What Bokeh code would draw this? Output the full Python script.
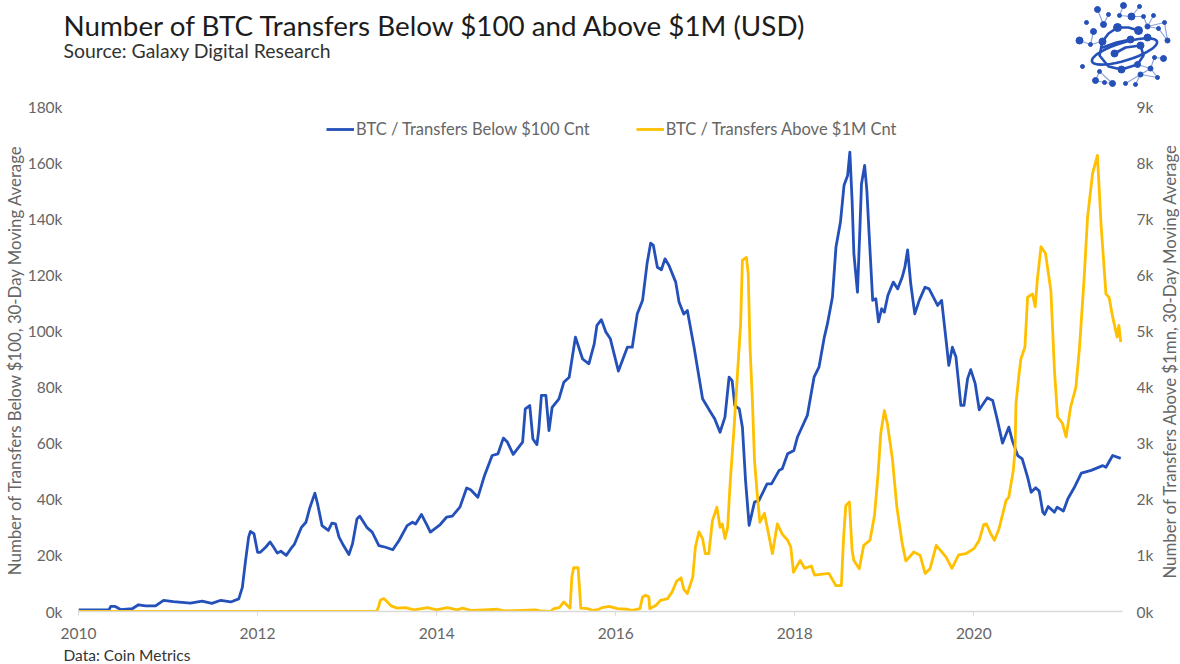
import math
from bokeh.plotting import figure
from bokeh.layouts import column
from bokeh.embed import file_html
from bokeh.resources import INLINE
from bokeh.models import Range1d, LinearAxis, FixedTicker, Label, Legend, LegendItem, PrintfTickFormatter

TITLE = "Number of BTC Transfers Below $100 and Above $1M (USD)"
SUBTITLE = "Source: Galaxy Digital Research"
FOOTER = "Data: Coin Metrics"
LEFT_LABEL = "Number of Transfers Below $100, 30-Day Moving Average"
RIGHT_LABEL = "Number of Transfers Above $1mn, 30-Day Moving Average"
BLUE_NAME = "BTC / Transfers Below $100 Cnt"
GOLD_NAME = "BTC / Transfers Above $1M Cnt"
X_TICKS = [2010, 2012, 2014, 2016, 2018, 2020]
LEFT_TICKS = [0, 20, 40, 60, 80, 100, 120, 140, 160, 180]
RIGHT_TICKS = [0, 1, 2, 3, 4, 5, 6, 7, 8, 9]

below_year = [2010,2010.34,2010.36,2010.41,2010.47,2010.6,2010.67,2010.75,2010.86,2010.95,2011.06,2011.25,2011.38,2011.49,2011.59,2011.7,
 2011.79,2011.83,2011.866,2011.9,2011.92,2011.96,2012.0,2012.03,2012.09,2012.14,2012.18,2012.22,2012.26,2012.32,2012.37,2012.41,2012.49,2012.54,2012.58,2012.64,2012.67,2012.72,2012.79,2012.83,2012.87,2012.91,2012.96,2013.02,2013.06,2013.11,2013.14,2013.22,2013.28,2013.355,2013.43,2013.51,2013.58,2013.67,2013.73,2013.765,2013.83,2013.895,2013.93,2014.04,2014.11,2014.175,2014.26,2014.335,2014.38,2014.46,2014.535,2014.62,2014.685,2014.745,2014.79,2014.855,2014.96,2014.99,2015.04,2015.075,2015.12,2015.14,2015.17,2015.22,2015.255,
 2015.29,2015.366,2015.42,2015.48,2015.55,2015.63,2015.7,2015.76,2015.79,2015.84,2015.89,2015.94,2016.03,2016.13,2016.185,2016.24,2016.3,2016.35,2016.39,2016.42,2016.465,2016.51,2016.55,2016.595,2016.67,2016.707,2016.76,2016.8,2016.875,2016.97,2017.06,2017.105,2017.165,2017.22,2017.266,2017.3,2017.33,2017.38,2017.415,2017.45,2017.49,2017.55,2017.6,2017.69,2017.74,2017.825,2017.86,2017.92,2017.99,2018.03,2018.14,2018.215,2018.27,2018.33,2018.365,2018.42,2018.46,2018.51,2018.55,2018.59,2018.615,2018.64,2018.66,2018.7,2018.725,2018.745,2018.78,2018.805,2018.83,2018.87,2018.905,2018.935,2018.97,2019.0,2019.04,2019.1,2019.15,2019.2,2019.23,2019.26,2019.295,2019.34,2019.39,2019.455,2019.5,2019.595,2019.64,2019.69,2019.72,2019.76,2019.8,2019.855,2019.89,2019.93,2019.965,2020.015,2020.06,2020.15,2020.21,2020.255,2020.32,2020.39,2020.43,2020.49,2020.54,2020.6,2020.64,2020.69,2020.73,2020.77,2020.79,2020.83,2020.9,2020.93,2021.0,2021.05,2021.12,2021.2,2021.31,2021.44,2021.475,2021.55,2021.64]
below_k = [0.6,0.6,1.8,1.8,0.7,1.0,2.4,2.0,2.0,4.0,3.5,3.0,3.7,2.9,4.0,3.4,
 4.5,8.6,18.2,26.5,28.5,27.7,21.1,21.1,22.9,24.8,22.9,20.8,21.5,20.0,22.3,23.9,30.0,31.8,36.6,42.2,38.4,30.6,28.9,31.5,31.2,26.5,23.5,20.3,24.1,33.0,34.0,30.0,28.3,23.5,22.9,22.0,25.3,30.6,31.8,31.2,34.6,30.6,28.3,31.0,33.6,34.0,37.2,44.0,43.4,40.7,48.5,55.6,56.2,61.8,60.4,56.0,60.4,72.2,73.4,61.5,59.5,64.5,77.0,77.0,64.5,
 72.8,75.8,81.7,83.5,97.8,90.0,88.3,95.4,102.0,104.0,99.6,97.2,85.7,94.2,94.2,106.0,110.9,124.0,131.3,130.5,122.7,121.8,125.7,123.3,117.4,110.3,106.0,107.3,94.2,75.8,71.0,68.7,63.9,69.3,83.5,82.3,73.4,72.2,65.7,46.7,30.7,39.0,39.6,45.5,45.5,50.3,50.9,56.2,57.4,62.2,69.9,83.5,87.1,97.8,102.6,112.0,129.9,138.8,151.9,155.4,163.7,146.5,127.5,113.8,134.6,152.5,159.0,150.0,134.6,110.9,111.5,103.2,107.9,106.7,112.7,117.4,115.0,119.2,122.8,128.9,116.8,106.1,110.9,115.6,115.0,109.1,110.9,96.6,87.7,94.2,90.7,73.5,73.5,83.0,86.2,81.2,71.9,76.2,75.2,69.3,60.0,65.7,60.9,55.6,54.4,47.9,42.5,44.1,42.9,35.4,34.6,37.4,35.4,37.2,35.8,40.2,44.1,49.3,50.3,52.0,51.4,55.6,54.6]

above_year = [2010,2013.33,2013.355,2013.37,2013.41,2013.45,2013.49,2013.56,2013.65,2013.75,2013.9,2014.0,2014.12,2014.23,2014.29,2014.38,2014.53,2014.68,2014.75,2015.1,2015.16,2015.27,
 2015.31,2015.37,2015.42,2015.49,2015.51,2015.53,2015.58,2015.61,2015.69,2015.74,2015.81,2015.85,2015.925,2016.02,2016.13,2016.185,2016.27,2016.3,2016.335,2016.37,2016.38,2016.45,2016.5,2016.58,2016.63,2016.68,2016.73,2016.76,2016.8,2016.86,2016.89,2016.93,2016.97,2017.0,2017.04,2017.08,2017.13,2017.165,2017.19,2017.22,2017.25,2017.28,2017.32,2017.36,2017.395,2017.415,2017.46,2017.48,2017.5,2017.525,2017.55,2017.58,2017.61,2017.66,2017.7,2017.75,2017.805,2017.86,2017.92,2017.955,2017.985,2018.06,2018.11,2018.185,2018.22,2018.38,2018.46,2018.52,2018.545,2018.57,2018.61,2018.64,2018.66,2018.72,2018.77,2018.84,2018.89,2018.93,2018.96,2019.0,2019.035,2019.09,2019.14,2019.2,2019.24,2019.33,2019.4,2019.455,2019.51,2019.58,2019.69,2019.755,2019.83,2019.91,2020.0,2020.06,2020.11,2020.14,2020.19,2020.23,2020.28,2020.36,2020.39,2020.44,2020.46,2020.47,2020.505,2020.525,2020.57,2020.6,2020.655,2020.685,2020.71,2020.75,2020.8,2020.86,2020.9,2020.935,2020.99,2021.03,2021.08,2021.14,2021.18,2021.23,2021.27,2021.325,2021.38,2021.42,2021.475,2021.51,2021.55,2021.6,2021.62,2021.64]
above_k = [0.0,0.0,0.1,0.2,0.23,0.17,0.1,0.06,0.07,0.03,0.07,0.03,0.07,0.03,0.06,0.02,0.03,0.04,0.01,0.03,0.01,0.0,
 0.05,0.07,0.17,0.06,0.61,0.78,0.78,0.06,0.05,0.02,0.04,0.07,0.09,0.05,0.04,0.02,0.05,0.26,0.29,0.26,0.05,0.11,0.2,0.23,0.35,0.54,0.6,0.4,0.32,0.61,1.15,1.42,1.3,1.03,1.03,1.62,1.86,1.5,1.56,1.3,1.5,2.34,3.23,4.24,5.13,6.26,6.31,6.02,4.71,3.82,2.69,2.1,1.59,1.75,1.44,1.03,1.56,1.38,1.27,1.15,0.7,0.91,0.77,0.81,0.65,0.68,0.46,0.46,1.32,1.89,1.95,1.09,0.91,0.76,1.18,1.27,1.71,2.45,3.17,3.58,3.34,2.72,1.86,1.21,0.9,1.06,1.0,0.68,0.76,1.18,0.97,0.77,1.01,1.03,1.12,1.27,1.55,1.56,1.38,1.27,1.47,1.98,2.04,2.51,2.87,3.7,4.24,4.5,4.71,5.6,5.66,5.43,5.93,6.5,6.38,5.72,4.3,3.47,3.35,3.11,3.64,4.0,4.71,5.9,7.03,7.8,8.13,6.91,5.66,5.6,5.25,4.89,5.1,4.8]

BLUE = "#2350b9"
GOLD = "#ffc000"
GREY = "#666666"
FONT = "Lato"

p = figure(width=1180, height=664,
           min_border_left=78, min_border_right=58, min_border_top=106, min_border_bottom=53,
           margin=0,
           x_range=Range1d(2010, 2021.66), y_range=Range1d(0, 180),
           output_backend="svg", toolbar_location=None, background_fill_color="white")
p.outline_line_color = None
p.grid.visible = False
p.extra_y_ranges = {"right": Range1d(0, 9)}

xa = p.xaxis[0]
xa.ticker = FixedTicker(ticks=X_TICKS)
xa.formatter = PrintfTickFormatter(format="%d")
xa.axis_line_color = "#d9d9d9"; xa.axis_line_width = 1.5
xa.major_tick_line_color = "#d9d9d9"; xa.major_tick_in = 0; xa.major_tick_out = 4
xa.minor_tick_line_color = None
xa.major_label_text_color = GREY; xa.major_label_text_font = FONT; xa.major_label_text_font_size = "15.5px"
xa.major_label_standoff = 12

ya = p.yaxis[0]
ya.ticker = FixedTicker(ticks=LEFT_TICKS)
ya.formatter = PrintfTickFormatter(format="%dk")
ra = LinearAxis(y_range_name="right", ticker=FixedTicker(ticks=RIGHT_TICKS), formatter=PrintfTickFormatter(format="%dk"))
p.add_layout(ra, "right")
for ax in (ya, ra):
    ax.axis_line_color = None
    ax.major_tick_line_color = None
    ax.minor_tick_line_color = None
    ax.major_label_text_color = GREY
    ax.major_label_text_font = FONT
    ax.major_label_text_font_size = "15.5px"
ya.major_label_standoff = 10
ra.major_label_standoff = 8

r1 = p.line(below_year, below_k, line_color=BLUE, line_width=2.8, line_join="round")
r2 = p.line(above_year, above_k, line_color=GOLD, line_width=2.8, line_join="round", y_range_name="right")

leg = Legend(items=[LegendItem(label=BLUE_NAME, renderers=[r1]), LegendItem(label=GOLD_NAME, renderers=[r2])],
             orientation="horizontal", location=(248, 472), background_fill_alpha=0, border_line_color=None,
             glyph_width=28, glyph_height=14, label_standoff=2, spacing=46, padding=0, margin=0,
             label_text_color=GREY, label_text_font=FONT, label_text_font_size="16.5px")
p.add_layout(leg, "center")

def txt(s, x, y, size, color, angle=0.0, align="left", baseline="alphabetic", side="above"):
    p.add_layout(Label(x=x, y=y, x_units="canvas", y_units="canvas", text=s, angle=angle,
                       text_align=align, text_baseline=baseline,
                       text_font=FONT, text_font_size=size, text_color=color), side)
txt(TITLE, 63, 25, "27.8px", "#1c1c1c")
txt(SUBTITLE, 63, 50, "19.4px", "#333333")
txt(FOOTER, 63, 654, "15.5px", "#333333")
txt(LEFT_LABEL, 14, 359, "16.8px", GREY, math.pi / 2, "center", "middle", "left")
txt(RIGHT_LABEL, 1169, 360, "16.8px", GREY, math.pi / 2, "center", "middle", "right")

# Decorative logo (top right), in page pixels
LOGO = "#2450b8"; LOGO_THIN = "#8ea4dd"
node_x = [1097,1108,1103,1086,1093,1079,1090,1123,1139,1119,1131,1143,1153,1147,1164,1158,1167,1117,1138,1102,1130,1147,1140,1114,1082,1154,1163,1150,1157,1140,1125,1135,1099,1095,1104,1112,1121,1137]
node_y = [9,14,24,22,31,40,44,5,6,15,16,16,15,26,22,28,40,27,30,41,39,37,45,53,66,57,58,68,77,74,83,84,71,80,82,83,69,64]
node_d = [6,4,6,4,6,7,4,6,4,4,7,4,4,5,4,4,5,8,8,7,7,7,7,7,4,4,6,5,4,5,4,4,4,6,4,6,7,6]
thin = [((1097,9),(1103,24)),((1108,14),(1103,24)),((1093,31),(1090,44)),((1079,40),(1090,44)),((1090,44),(1102,41)),((1123,5),(1119,15)),
        ((1119,15),(1131,16)),((1131,16),(1139,6)),((1131,16),(1143,16)),((1143,16),(1147,26)),((1153,15),(1147,26)),((1147,26),(1164,22)),
        ((1164,22),(1167,40)),((1158,28),(1167,40)),((1147,26),(1158,28)),((1140,74),(1150,68)),((1150,68),(1157,77)),((1150,68),(1154,57)),
        ((1154,57),(1163,58)),((1137,64),(1150,68)),((1125,83),(1140,74)),((1135,84),(1140,74)),((1140,74),(1157,77)),((1099,71),(1095,80)),
        ((1099,71),(1112,83)),((1095,80),(1104,82)),((1104,82),(1112,83))]
thick = [[(1102,41),(1108,33),(1117,27),(1128,27),(1138,30)],[(1102,41),(1099,55),(1108,66),(1121,69),(1137,64),(1143,55),(1140,45)],
         [(1114,53),(1125,47),(1140,45)],[(1102,47),(1116,42),(1130,39)]]
ring = []
for i in range(37):
    t = 2 * math.pi * i / 36
    ex, ey = 34 * math.cos(t), 9 * math.sin(t)
    c, s = math.cos(math.radians(-17)), math.sin(math.radians(-17))
    ring.append((1124 + ex * c - ey * s, 51 + ex * s + ey * c))

logo = figure(width=1180, height=90,
              x_range=Range1d(0, 1180), y_range=Range1d(90, 0),
              x_axis_location=None, y_axis_location=None, min_border=0, min_border_left=0, min_border_right=0, min_border_top=0, min_border_bottom=0,
              outline_line_color=None, margin=0,
              output_backend="svg", toolbar_location=None, background_fill_alpha=0, border_fill_alpha=0,
              styles={"position": "absolute", "left": "0px", "top": "0px", "z-index": "5"})
logo.grid.visible = False
# The logo's frame must not be aligned with the main plot's frame
if "frame_align" in logo.properties():
    logo.frame_align = False
    p.frame_align = False
else:
    logo.x_range.end = 1127
logo.multi_line([[a[0], b[0]] for a, b in thin], [[a[1], b[1]] for a, b in thin], line_color=LOGO_THIN, line_width=1.2)
logo.multi_line([[q[0] for q in t] for t in thick] + [[q[0] for q in ring]],
                [[q[1] for q in t] for t in thick] + [[q[1] for q in ring]], line_color=LOGO, line_width=2.6, line_cap="round", line_join="round")
logo.scatter(node_x, node_y, size=node_d, color=LOGO)

open("out.html", "w").write(file_html(column(p, logo), INLINE))
